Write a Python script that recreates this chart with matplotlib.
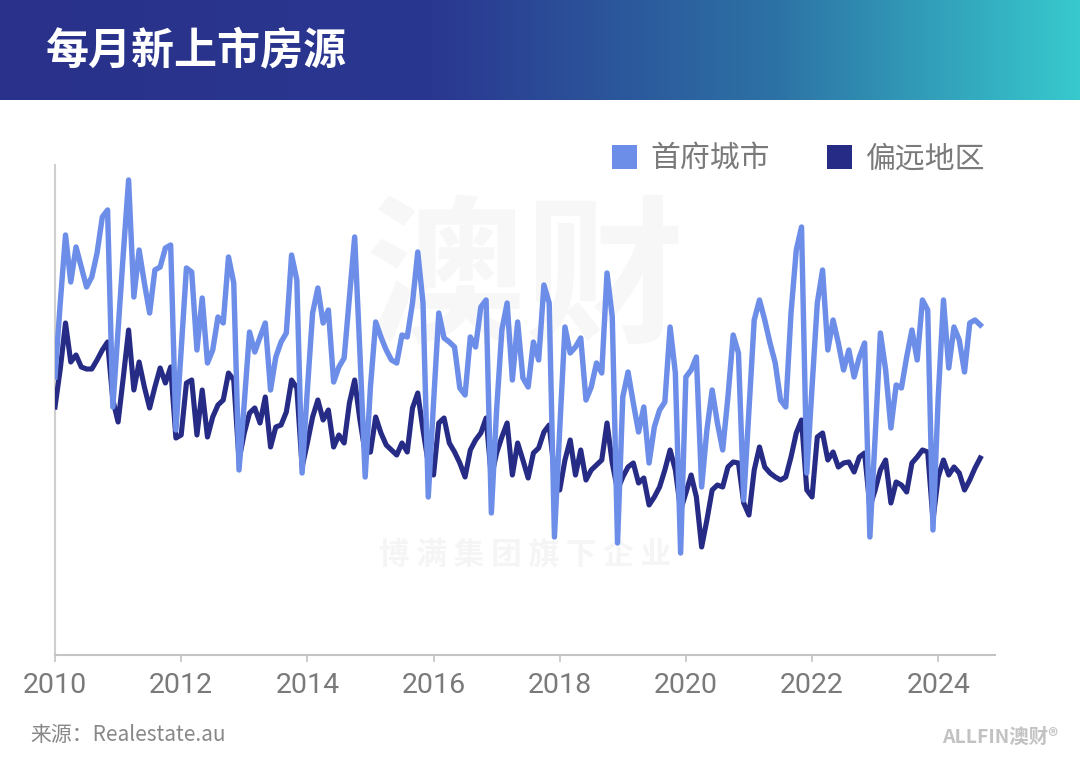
import numpy as np
import matplotlib
matplotlib.use("Agg")
import matplotlib.pyplot as plt
from matplotlib.colors import LinearSegmentedColormap
from matplotlib.patches import Patch

# 每月新上市房源 (monthly new listings), Jan 2010 - Sep 2024, index units
CAPITAL = [
    27.8, 35.2, 42.0, 37.3, 40.8, 38.8, 36.8, 37.8, 40.2, 43.8, 44.5, 24.8,
    32.5, 40.2, 47.5, 35.8, 40.5, 37.2, 34.2, 38.5, 38.8, 40.7, 41.0, 22.5,
    30.5, 38.7, 38.3, 30.5, 35.7, 29.2, 30.5, 33.8, 33.2, 39.8, 37.2, 18.5,
    25.2, 32.3, 30.3, 31.8, 33.2, 26.5, 29.8, 31.3, 32.2, 40.0, 37.5, 18.2,
    26.5, 34.2, 36.7, 33.2, 34.5, 27.3, 28.8, 29.7, 35.8, 41.8, 30.2, 17.8,
    26.8, 33.3, 31.8, 30.5, 29.5, 29.2, 32.0, 31.8, 35.2, 40.3, 35.2, 15.8,
    25.2, 34.2, 31.7, 31.3, 30.8, 26.7, 26.0, 31.8, 30.8, 34.8, 35.5, 14.2,
    24.5, 32.5, 35.2, 27.5, 33.3, 27.7, 26.8, 31.3, 29.5, 37.0, 35.2, 11.8,
    22.5, 32.8, 30.2, 30.8, 31.7, 25.5, 26.8, 29.2, 28.2, 38.2, 33.8, 11.2,
    25.8, 28.3, 25.2, 22.3, 24.8, 19.2, 22.8, 24.5, 25.3, 32.8, 28.2, 10.2,
    27.8, 28.5, 29.8, 16.8, 22.5, 26.5, 23.2, 20.5, 25.8, 32.0, 30.2, 15.5,
    24.5, 33.5, 35.5, 33.5, 31.2, 29.2, 25.5, 24.8, 34.2, 40.5, 42.8, 18.2,
    26.8, 35.2, 38.5, 30.5, 33.5, 31.2, 28.5, 30.5, 27.8, 29.8, 31.2, 11.8,
    21.8, 32.2, 28.5, 22.7, 27.0, 26.7, 29.8, 32.5, 29.5, 35.5, 34.5, 12.5,
    25.8, 35.5, 28.7, 32.8, 31.5, 28.3, 33.2, 33.5, 33.0,
]
REGIONAL = [
    24.8, 28.6, 33.2, 29.3, 30.0, 28.8, 28.6, 28.6, 29.5, 30.5, 31.3, 25.5,
    23.3, 27.8, 32.5, 26.5, 29.3, 26.8, 24.7, 26.8, 28.7, 27.2, 28.8, 21.7,
    22.0, 27.2, 27.5, 22.0, 26.5, 21.8, 23.8, 25.0, 25.5, 28.2, 27.5, 19.5,
    22.2, 24.2, 24.7, 23.2, 25.8, 20.8, 22.8, 23.0, 24.3, 27.5, 26.7, 18.8,
    21.2, 23.8, 25.5, 23.5, 24.5, 20.8, 22.0, 21.2, 25.2, 27.5, 23.5, 20.2,
    20.3, 23.8, 22.2, 21.0, 20.5, 20.0, 21.2, 20.3, 24.7, 26.2, 22.5, 19.2,
    18.0, 23.2, 23.7, 21.2, 20.3, 19.2, 17.8, 20.5, 21.5, 22.2, 23.7, 17.8,
    20.2, 21.8, 23.2, 18.0, 21.2, 19.5, 17.7, 20.2, 20.7, 22.3, 23.0, 18.2,
    16.5, 19.5, 21.5, 18.0, 20.5, 17.5, 18.5, 19.0, 19.5, 23.2, 19.2, 16.5,
    17.8, 18.8, 19.2, 17.2, 17.7, 15.0, 15.8, 16.8, 18.5, 20.5, 18.5, 14.5,
    16.2, 18.0, 15.8, 10.8, 13.5, 16.5, 17.0, 16.8, 18.8, 19.3, 19.2, 15.2,
    14.0, 18.5, 20.8, 18.8, 18.2, 17.8, 17.5, 17.8, 19.8, 22.2, 23.5, 16.5,
    15.8, 21.8, 22.2, 19.5, 20.3, 18.8, 19.2, 19.3, 18.3, 19.8, 20.2, 14.8,
    16.5, 18.5, 19.5, 15.2, 17.3, 17.0, 16.3, 19.2, 19.8, 20.5, 20.3, 13.5,
    17.8, 19.5, 18.0, 18.8, 18.2, 16.5, 17.5, 18.7, 19.7,
]
START_YEAR = 2010
YEAR_TICKS = [2010, 2012, 2014, 2016, 2018, 2020, 2022, 2024]
SERIES_NAMES = ["首府城市", "偏远地区"]

TITLE = "每月新上市房源"
SOURCE = "来源：Realestate.au"

LIGHT = "#6D8EE8"
DARK = "#262B85"
GREY_TXT = "#7a7a7a"
CJK = ["Noto Sans CJK SC", "DejaVu Sans"]

W, H = 1080, 767
fig = plt.figure(figsize=(W / 100, H / 100), dpi=100)
fig.patch.set_facecolor("white")

# header band with gradient
hdr = fig.add_axes([0, 1 - 100 / H, 1, 100 / H])
cmap = LinearSegmentedColormap.from_list(
    "hdr", [(0.0, "#29318A"), (0.40, "#2A3790"), (0.72, "#2D72A5"), (1.0, "#37C9CD")])
hdr.imshow(np.linspace(0, 1, 512)[None, :], aspect="auto", cmap=cmap,
           extent=[0, 1, 0, 1])
hdr.set_xlim(0, 1)
hdr.set_ylim(0, 1)
hdr.axis("off")
hdr.text(46 / W, 0.49, TITLE, color="white", fontsize=31, fontweight="black",
         family=CJK, va="center", ha="left")

# main plot
ax = fig.add_axes([55 / W, 1 - 655 / H, 940 / W, 490 / H])
x = START_YEAR + np.arange(len(CAPITAL)) / 12.0
x2 = START_YEAR + np.arange(len(REGIONAL)) / 12.0

ax.plot(x2, REGIONAL, color=DARK, lw=3.7, solid_joinstyle="round", zorder=3)
ax.plot(x, CAPITAL, color=LIGHT, lw=3.9, solid_joinstyle="round", zorder=4)

ax.set_xlim(2010, 2024.9)
ax.set_ylim(0, 49)
ax.set_xticks(YEAR_TICKS)
ax.set_xticklabels([str(t) for t in YEAR_TICKS], fontsize=20.5, color=GREY_TXT,
                   family="Roboto")
ax.set_yticks([])
for side in ["top", "right"]:
    ax.spines[side].set_visible(False)
ax.spines["left"].set_color("#cfcfcf")
ax.spines["left"].set_linewidth(1.5)
ax.spines["bottom"].set_color("#c4c4c4")
ax.spines["bottom"].set_linewidth(1.5)
ax.tick_params(axis="x", length=5, width=1.2, color="#c4c4c4", pad=7)

# faint watermark
ax.text(0.5, 0.76, "澳财", transform=ax.transAxes, fontsize=115, color="#f7f7f8",
        family=CJK, fontweight="bold", ha="center", va="center", zorder=0)
ax.text(0.5, 0.205, "博 满 集 团 旗 下 企 业", transform=ax.transAxes, fontsize=22,
        color="#f5f5f6", family=CJK, fontweight="bold", ha="center", va="center",
        zorder=0)

handles = [Patch(facecolor=LIGHT, edgecolor="none"),
           Patch(facecolor=DARK, edgecolor="none")]
leg = fig.legend(handles, SERIES_NAMES, loc="center right",
                 bbox_to_anchor=(985 / W, 1 - 159 / H), ncol=2, frameon=False,
                 borderpad=0, borderaxespad=0,
                 handlelength=0.85, handleheight=0.85, handletextpad=0.45,
                 columnspacing=1.9, prop={"family": CJK, "size": 21.5})
for t in leg.get_texts():
    t.set_color(GREY_TXT)

fig.text(30 / W, 1 - 735 / H, SOURCE, fontsize=15, color="#888888", family=CJK,
         va="center", ha="left")
fig.text(1058 / W, 1 - 737 / H, "ALLFIN澳财®", fontsize=14, color="#c2c2c2",
         family=CJK, fontweight="bold", va="center", ha="right")

fig.savefig("out.png", dpi=100)
